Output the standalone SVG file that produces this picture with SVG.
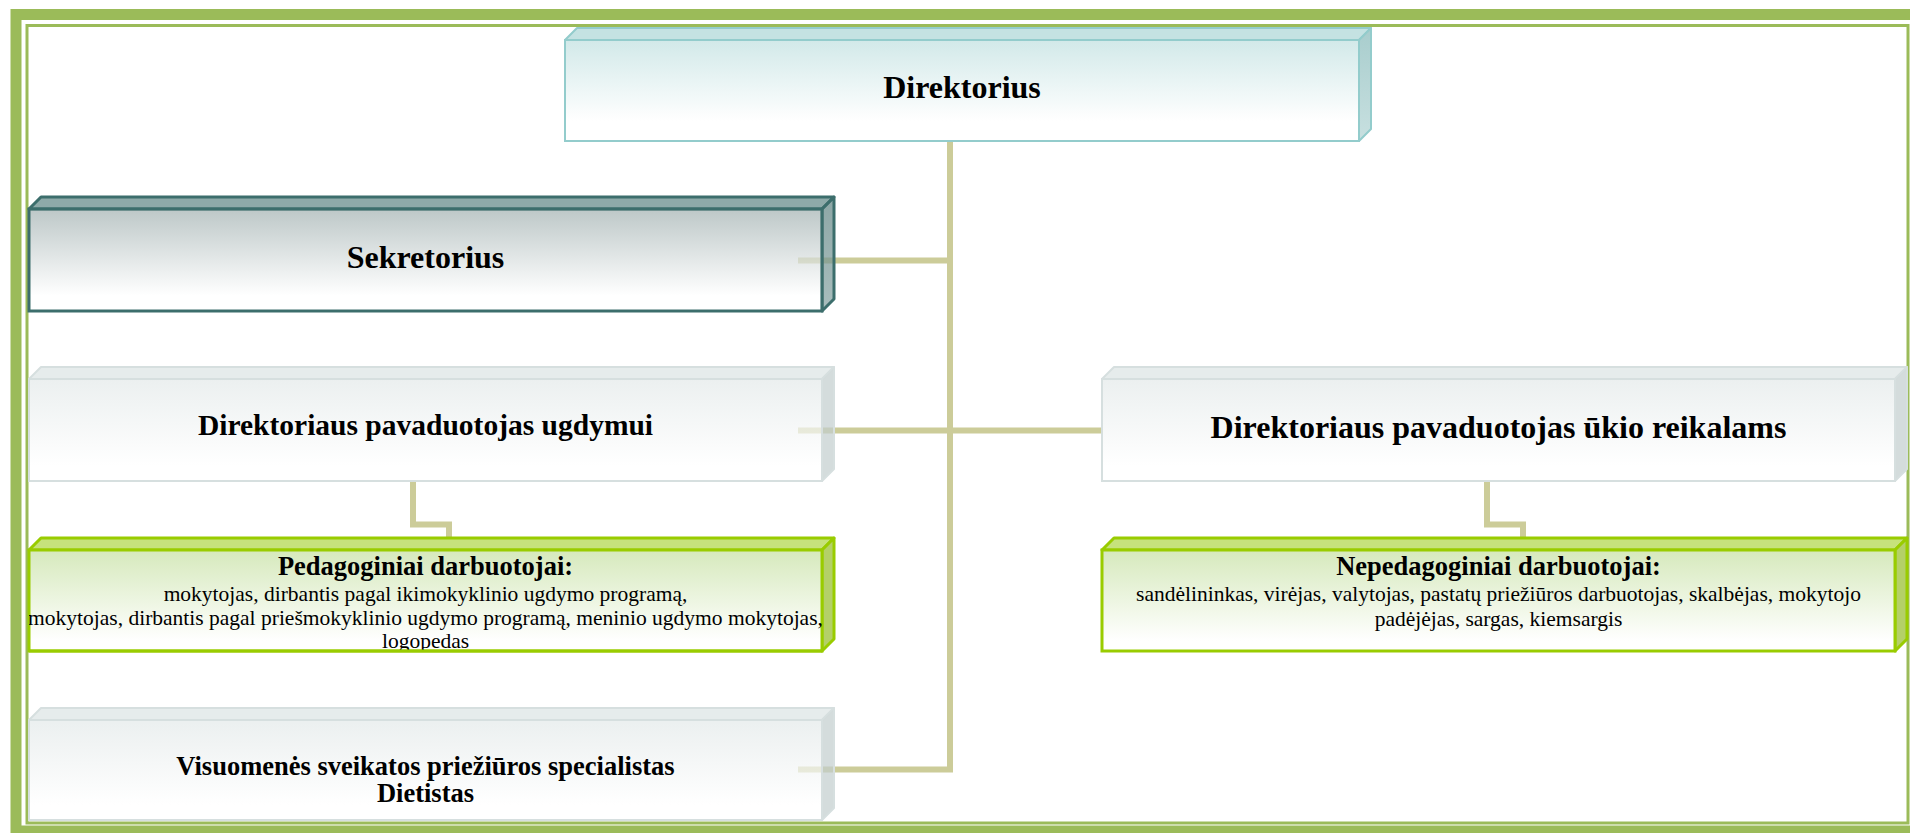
<svg xmlns="http://www.w3.org/2000/svg" width="1910" height="833" viewBox="0 0 1910 833">
  <defs>
    <linearGradient id="gDir" x1="0" y1="0" x2="0" y2="1">
      <stop offset="0" stop-color="#D2E9E9"/>
      <stop offset="0.8" stop-color="#FFFFFF"/>
    </linearGradient>
    <linearGradient id="gDirSide" x1="0" y1="0" x2="0" y2="1">
      <stop offset="0" stop-color="#A8CDCD"/>
      <stop offset="1" stop-color="#C8E0E0"/>
    </linearGradient>
    <linearGradient id="gSek" x1="0" y1="0" x2="0" y2="1">
      <stop offset="0" stop-color="#A1B0B0"/>
      <stop offset="0.85" stop-color="#FFFFFF"/>
    </linearGradient>
    <linearGradient id="gSekSide" x1="0" y1="0" x2="0" y2="1">
      <stop offset="0" stop-color="#5C8180"/>
      <stop offset="1" stop-color="#85A2A1"/>
    </linearGradient>
    <linearGradient id="gGrey" x1="0" y1="0" x2="0" y2="1">
      <stop offset="0" stop-color="#E3E9E9"/>
      <stop offset="0.85" stop-color="#FFFFFF"/>
    </linearGradient>
    <linearGradient id="gGreen" x1="0" y1="0" x2="0" y2="1">
      <stop offset="0" stop-color="#D6E9BC"/>
      <stop offset="0.9" stop-color="#FFFFFF"/>
    </linearGradient>
    <clipPath id="clipPed">
      <rect x="29" y="550" width="793" height="100"/>
    </clipPath>
  </defs>
  <style>
    .border-outer { fill: none; stroke: #9BBB59; stroke-width: 11; }
    .border-inner { fill: none; stroke: #9BBB59; stroke-width: 3; }
    .conn { fill: none; stroke: #CCCC99; stroke-width: 6; stroke-linejoin: miter; }
    .dir-front { fill: url(#gDir); stroke: #93CCCC; stroke-width: 2; }
    .dir-top { fill: #C4E2E2; stroke: #93CCCC; stroke-width: 2; stroke-linejoin: round; }
    .dir-side { fill: url(#gDirSide); stroke: #93CCCC; stroke-width: 2; stroke-linejoin: round; }
    .sek-front { fill: url(#gSek); fill-opacity: 0.7; stroke: #3C6E6C; stroke-width: 3; }
    .sek-top { fill: #8EAAA9; stroke: #3C6E6C; stroke-width: 3; stroke-linejoin: round; }
    .sek-side { fill: url(#gSekSide); fill-opacity: 0.7; stroke: #3C6E6C; stroke-width: 3; stroke-linejoin: round; }
    .grey-front { fill: url(#gGrey); fill-opacity: 0.7; stroke: #D6DFDF; stroke-width: 2; }
    .grey-top { fill: #E6ECEC; stroke: #D6DFDF; stroke-width: 2; stroke-linejoin: round; }
    .grey-side { fill: #C2CDCD; fill-opacity: 0.7; stroke: #D6DFDF; stroke-width: 2; stroke-linejoin: round; }
    .green-front { fill: url(#gGreen); stroke: #99CC00; stroke-width: 3; }
    .green-top { fill: #C6E27C; stroke: #99CC00; stroke-width: 3; stroke-linejoin: round; }
    .green-side { fill: #B4D068; stroke: #99CC00; stroke-width: 3; stroke-linejoin: round; }
    text { font-family: "Liberation Serif", "Times New Roman", serif; fill: #000000; text-anchor: middle; }
    .h1 { font-size: 32px; font-weight: bold; }
    .h2 { font-size: 29.5px; font-weight: bold; }
    .h3 { font-size: 26.5px; font-weight: bold; }
    .body { font-size: 21.5px; }
  </style>

  <g id="frame">
    <rect class="border-outer" x="16" y="14.5" width="1930" height="816.5"/>
    <rect class="border-inner" x="27" y="25.5" width="1881" height="797.5"/>
  </g>

  <g id="connectors">
    <path class="conn" d="M950,141 V769.5 H798"/>
    <path class="conn" d="M798,260.5 H950"/>
    <path class="conn" d="M798,430.5 H1102"/>
    <path class="conn" d="M413,481 V524.5 H449 V538"/>
    <path class="conn" d="M1487,481 V524.5 H1523 V538"/>
  </g>

  <g id="node-direktorius">
    <path class="dir-top" d="M565,40 L577,28 L1371,28 L1359,40 Z"/>
    <path class="dir-side" d="M1359,40 L1371,28 L1371,129 L1359,141 Z"/>
    <rect class="dir-front" x="565" y="40" width="794" height="101"/>
    <text class="h1" x="962" y="98">Direktorius</text>
  </g>

  <g id="node-sekretorius">
    <path class="sek-top" d="M29,209 L41,197 L834,197 L822,209 Z"/>
    <path class="sek-side" d="M822,209 L834,197 L834,299 L822,311 Z"/>
    <rect class="sek-front" x="29" y="209" width="793" height="102"/>
    <text class="h1" x="425.5" y="268">Sekretorius</text>
  </g>

  <g id="node-pav-ugdymui">
    <path class="grey-top" d="M29,379 L41,367 L834,367 L822,379 Z"/>
    <path class="grey-side" d="M822,379 L834,367 L834,469 L822,481 Z"/>
    <rect class="grey-front" x="29" y="379" width="793" height="102"/>
    <text class="h2" x="425.5" y="435">Direktoriaus pavaduotojas ugdymui</text>
  </g>

  <g id="node-pav-ukio">
    <path class="grey-top" d="M1102,379 L1114,367 L1907,367 L1895,379 Z"/>
    <path class="grey-side" d="M1895,379 L1907,367 L1907,469 L1895,481 Z"/>
    <rect class="grey-front" x="1102" y="379" width="793" height="102"/>
    <text class="h1" x="1498.5" y="438">Direktoriaus pavaduotojas ūkio reikalams</text>
  </g>

  <g id="node-pedagoginiai">
    <path class="green-top" d="M29,550 L41,538 L834,538 L822,550 Z"/>
    <path class="green-side" d="M822,550 L834,538 L834,639 L822,651 Z"/>
    <rect class="green-front" x="29" y="550" width="793" height="101"/>
    <g clip-path="url(#clipPed)">
      <text class="h3" x="425.5" y="575">Pedagoginiai darbuotojai:</text>
      <text class="body" x="425.5" y="601">mokytojas, dirbantis pagal ikimokyklinio ugdymo programą,</text>
      <text class="body" x="425.5" y="625">mokytojas, dirbantis pagal priešmokyklinio ugdymo programą, meninio ugdymo mokytojas,</text>
      <text class="body" x="425.5" y="648">logopedas</text>
    </g>
    <path d="M29,651 H822" fill="none" stroke="#99CC00" stroke-width="3"/>
  </g>

  <g id="node-nepedagoginiai">
    <path class="green-top" d="M1102,550 L1114,538 L1907,538 L1895,550 Z"/>
    <path class="green-side" d="M1895,550 L1907,538 L1907,639 L1895,651 Z"/>
    <rect class="green-front" x="1102" y="550" width="793" height="101"/>
    <text class="h3" x="1498.5" y="575">Nepedagoginiai darbuotojai:</text>
    <text class="body" x="1498.5" y="601">sandėlininkas, virėjas, valytojas, pastatų priežiūros darbuotojas, skalbėjas, mokytojo</text>
    <text class="body" x="1498.5" y="626">padėjėjas, sargas, kiemsargis</text>
  </g>

  <g id="node-visuomenes">
    <path class="grey-top" d="M29,720 L41,708 L834,708 L822,720 Z"/>
    <path class="grey-side" d="M822,720 L834,708 L834,808 L822,820 Z"/>
    <rect class="grey-front" x="29" y="720" width="793" height="100"/>
    <text class="h3" x="425.5" y="775">Visuomenės sveikatos priežiūros specialistas</text>
    <text class="h3" x="425.5" y="802">Dietistas</text>
  </g>
</svg>
